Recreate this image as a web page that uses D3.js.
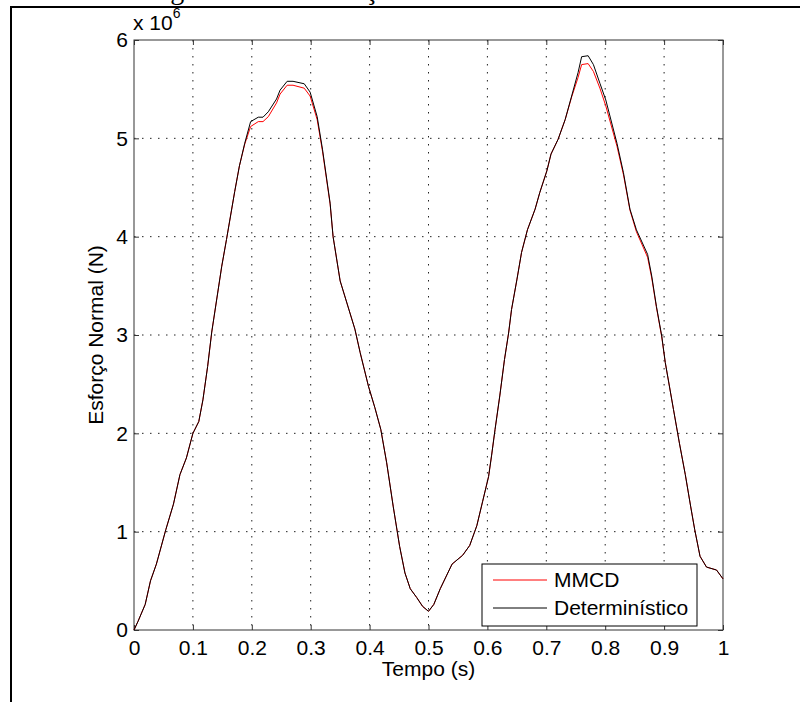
<!DOCTYPE html>
<html>
<head>
<meta charset="utf-8">
<script src="https://cdn.jsdelivr.net/npm/d3@7/dist/d3.min.js"></script>
<style>
  body { margin: 0; background: #fff; }
  svg { display: block; }
  text { font-family: Arial, "Liberation Sans", sans-serif; }
</style>
</head>
<body>
<div id="svgCanvas"></div>
<script>
const W = 800, H = 702
const margin = {top: 40, right: 77, bottom: 72, left: 134}
const width = W - margin.left - margin.right, height = H - margin.top - margin.bottom
const fontSize = "21px"

// data (time in s, force in 1e6 N)
const tempo = [0, 0.007, 0.019, 0.028, 0.038, 0.054, 0.067, 0.078, 0.089, 0.100,
    0.110, 0.117, 0.125, 0.132, 0.149, 0.157, 0.171, 0.179, 0.188, 0.198,
    0.211, 0.219, 0.228, 0.242, 0.248, 0.260, 0.270, 0.289, 0.299, 0.311,
    0.320, 0.333, 0.338, 0.350, 0.375, 0.384, 0.398, 0.409, 0.419, 0.429,
    0.440, 0.451, 0.460, 0.469, 0.480, 0.490, 0.500, 0.509, 0.520, 0.540,
    0.558, 0.570, 0.582, 0.592, 0.602, 0.607, 0.613, 0.621, 0.629, 0.636,
    0.641, 0.650, 0.658, 0.668, 0.681, 0.689, 0.701, 0.708, 0.720, 0.732,
    0.743, 0.754, 0.760, 0.771, 0.780, 0.791, 0.801, 0.820, 0.831, 0.842,
    0.853, 0.872, 0.879, 0.887, 0.896, 0.902, 0.916, 0.926, 0.936, 0.945,
    0.952, 0.961, 0.972, 0.989, 1.000]
const deterministico = [0, 0.09, 0.26, 0.50, 0.67, 1.02, 1.28, 1.58, 1.75, 2.00,
    2.12, 2.34, 2.68, 3.03, 3.70, 3.97, 4.46, 4.72, 4.95, 5.17,
    5.215, 5.215, 5.27, 5.40, 5.49, 5.58, 5.58, 5.555, 5.47, 5.22,
    4.89, 4.34, 4.00, 3.55, 3.06, 2.82, 2.48, 2.26, 2.04, 1.70,
    1.26, 0.85, 0.58, 0.42, 0.33, 0.24, 0.19, 0.26, 0.42, 0.67,
    0.76, 0.86, 1.06, 1.31, 1.56, 1.77, 2.04, 2.38, 2.75, 3.02,
    3.26, 3.56, 3.84, 4.07, 4.28, 4.45, 4.67, 4.84, 4.99, 5.19,
    5.43, 5.67, 5.83, 5.84, 5.75, 5.56, 5.39, 4.95, 4.65, 4.28,
    4.07, 3.82, 3.60, 3.29, 2.99, 2.72, 2.24, 1.90, 1.58, 1.26,
    1.02, 0.75, 0.64, 0.61, 0.52]
const mmcd = [0, 0.09, 0.26, 0.50, 0.67, 1.02, 1.28, 1.58, 1.75, 2.00,
    2.12, 2.34, 2.68, 3.03, 3.70, 3.97, 4.46, 4.72, 4.94, 5.12,
    5.17, 5.17, 5.22, 5.36, 5.45, 5.54, 5.54, 5.51, 5.43, 5.19,
    4.87, 4.33, 4.00, 3.55, 3.06, 2.82, 2.48, 2.26, 2.04, 1.70,
    1.26, 0.85, 0.58, 0.42, 0.33, 0.24, 0.19, 0.26, 0.42, 0.67,
    0.76, 0.86, 1.06, 1.31, 1.56, 1.77, 2.04, 2.38, 2.75, 3.02,
    3.26, 3.56, 3.84, 4.07, 4.28, 4.45, 4.67, 4.84, 4.99, 5.19,
    5.42, 5.62, 5.75, 5.76, 5.68, 5.51, 5.33, 4.92, 4.63, 4.27,
    4.05, 3.79, 3.58, 3.28, 2.98, 2.72, 2.24, 1.90, 1.58, 1.26,
    1.02, 0.75, 0.64, 0.61, 0.52]
const xTicks = [0, 0.1, 0.2, 0.3, 0.4, 0.5, 0.6, 0.7, 0.8, 0.9, 1]
const yTicks = [0, 1, 2, 3, 4, 5, 6]
const seriesNames = ["MMCD", "Determinístico"]
const seriesColors = ["#ff0000", "#000000"]

const xScale = d3.scaleLinear().domain([0, 1]).range([0, width])
const yScale = d3.scaleLinear().domain([0, 6]).range([height, 0])

const root = d3.select("#svgCanvas").append("svg")
    .attr("width", W)
    .attr("height", H)
root.append("rect").attr("width", W).attr("height", H).attr("fill", "#fff")

// caption of the page, cut off above, and the page frame
root.append("text")
    .attr("x", 147).attr("y", -1)
    .style("font-family", "'Liberation Serif', 'Times New Roman', serif")
    .style("font-size", "28px")
    .text("Figura 4.10 – Esforço Normal")
root.append("rect")
    .attr("x", 11).attr("y", 7)
    .attr("width", W + 20).attr("height", H + 20)
    .attr("fill", "none").attr("stroke", "#000").attr("stroke-width", 2)

const svg = root.append("g")
    .attr("transform", "translate(" + margin.left + "," + margin.top + ")")

// grid
svg.append("g").selectAll("line")
    .data(xTicks.slice(1, -1)).enter().append("line")
    .attr("x1", d => xScale(d)).attr("x2", d => xScale(d))
    .attr("y1", 0).attr("y2", height)
    .attr("stroke", "#222").attr("stroke-dasharray", "1.5,6.5")
svg.append("g").selectAll("line")
    .data(yTicks.slice(1, -1)).enter().append("line")
    .attr("y1", d => yScale(d)).attr("y2", d => yScale(d))
    .attr("x1", 0).attr("x2", width)
    .attr("stroke", "#222").attr("stroke-dasharray", "1.5,6.5")

// axes, ticks pointing inwards on all four sides
function styleAxis(g) {
    g.select(".domain").remove()
    g.selectAll(".tick line").attr("stroke", "#333")
    g.selectAll(".tick text").attr("fill", "#000").style("font-size", fontSize)
}
const fmt = d => d3.format("~g")(d)
svg.append("g")
    .attr("transform", "translate(0," + height + ")")
    .call(d3.axisBottom(xScale).tickValues(xTicks).tickFormat(fmt).tickSizeInner(-5).tickSizeOuter(0).tickPadding(10))
    .call(styleAxis)
svg.append("g")
    .call(d3.axisTop(xScale).tickValues(xTicks).tickFormat("").tickSizeInner(-5).tickSizeOuter(0))
    .call(styleAxis)
svg.append("g")
    .call(d3.axisLeft(yScale).tickValues(yTicks).tickFormat(fmt).tickSizeInner(-5).tickSizeOuter(0).tickPadding(6))
    .call(styleAxis)
svg.append("g")
    .attr("transform", "translate(" + width + ",0)")
    .call(d3.axisRight(yScale).tickValues(yTicks).tickFormat("").tickSizeInner(-5).tickSizeOuter(0))
    .call(styleAxis)

svg.append("rect")
    .attr("width", width).attr("height", height)
    .attr("fill", "none").attr("stroke", "#333").attr("stroke-width", 1)

// curves
const line = d3.line()
    .x((d, i) => xScale(tempo[i]))
    .y(d => yScale(d))
;[mmcd, deterministico].forEach((s, i) => {
    svg.append("path")
        .datum(s)
        .attr("d", line)
        .attr("fill", "none")
        .attr("stroke", seriesColors[i])
        .attr("stroke-width", 1)
})

// exponent label
const expo = svg.append("text").attr("x", -1).attr("y", -10).style("font-size", fontSize)
expo.append("tspan").text("x 10")
expo.append("tspan").attr("dy", -12).style("font-size", "14px").text("6")

// axis labels
svg.append("text")
    .attr("x", width / 2).attr("y", height + 46)
    .attr("text-anchor", "middle").style("font-size", fontSize)
    .text("Tempo (s)")
svg.append("text")
    .attr("transform", "translate(" + (-31) + "," + (height / 2) + ") rotate(-90)")
    .attr("text-anchor", "middle").style("font-size", fontSize)
    .text("Esforço Normal (N)")

// legend
const leg = svg.append("g").attr("transform", "translate(" + (482 - margin.left) + "," + (564 - margin.top) + ")")
leg.append("rect").attr("width", 215).attr("height", 62)
    .attr("fill", "#fff").attr("stroke", "#000").attr("stroke-width", 1)
seriesNames.forEach((name, i) => {
    const y = 16 + i * 28
    leg.append("line")
        .attr("x1", 11).attr("x2", 65).attr("y1", y).attr("y2", y)
        .attr("stroke", seriesColors[i])
    leg.append("text")
        .attr("x", 72).attr("y", y).attr("dy", "0.35em")
        .style("font-size", fontSize)
        .text(name)
})
</script>
</body>
</html>
